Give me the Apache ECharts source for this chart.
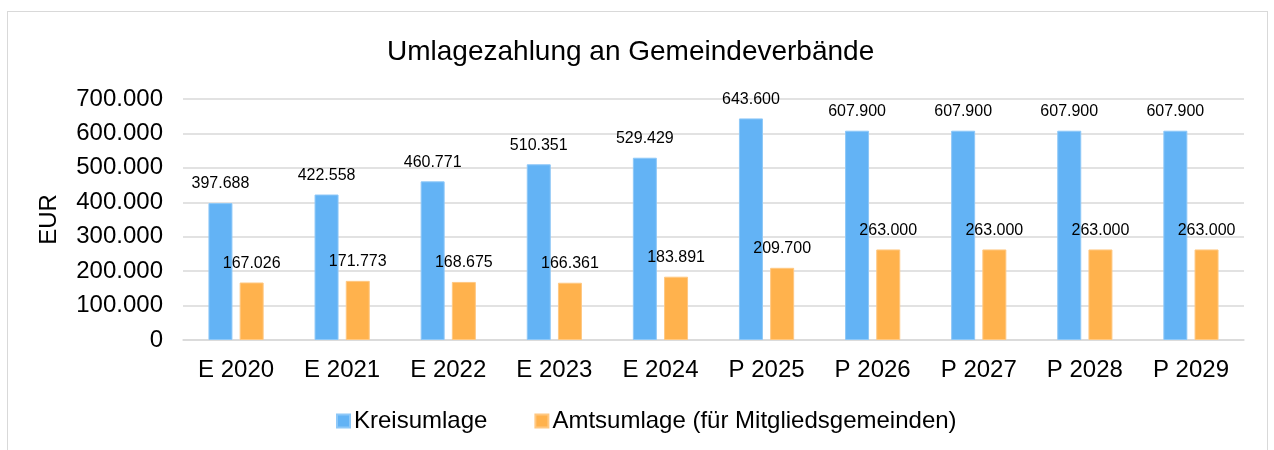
<!DOCTYPE html>
<html>
<head>
<meta charset="utf-8">
<script src="https://cdn.jsdelivr.net/npm/echarts@6/dist/echarts.min.js"></script>
<style>
  html, body { margin: 0; padding: 0; background: #fff; }
  #frame { position: absolute; left: 7px; top: 11px; width: 1261px; height: 460px; border: 1px solid #d9d9d9; box-sizing: border-box; }
  #chart { position: absolute; left: 0; top: 0; width: 1274px; height: 450px; }
</style>
</head>
<body>
<div id="frame"></div>
<div id="chart"></div>
<script>
var years = ['E 2020', 'E 2021', 'E 2022', 'E 2023', 'E 2024', 'P 2025', 'P 2026', 'P 2027', 'P 2028', 'P 2029'];
var kreisumlage = [397688, 422558, 460771, 510351, 529429, 643600, 607900, 607900, 607900, 607900];
var amtsumlage = [167026, 171773, 168675, 166361, 183891, 209700, 263000, 263000, 263000, 263000];

// Tausenderpunkt
function fmt(v) {
	return String(v).replace(/\B(?=(\d{3})+(?!\d))/g, '.');
}

var dom = document.getElementById('chart');
var myChart = echarts.init(dom);
var font = 'Liberation Sans, Arial, sans-serif';
var option = {
	textStyle: { fontFamily: font },
	title: {
		text: 'Umlagezahlung an Gemeindeverbände',
		left: 382,
		top: 33,
		textStyle: { fontSize: 28, fontWeight: 'normal', color: '#000', fontFamily: font }
	},
	legend: {
		bottom: 12,
		left: 331,
		itemWidth: 13,
		itemHeight: 13,
		itemGap: 47,
		icon: 'rect',
		textStyle: { fontSize: 24, color: '#000', fontFamily: font, padding: [0, 0, 0, -1] },
		data: ['Kreisumlage', 'Amtsumlage (für Mitgliedsgemeinden)']
	},
	grid: { left: 183, right: 30, top: 99, bottom: 110 },
	xAxis: {
		type: 'category',
		data: years,
		axisLine: { lineStyle: { color: '#d9d9d9', width: 1.5 } },
		axisTick: { show: false },
		axisLabel: { fontSize: 24, color: '#000', margin: 18, fontFamily: font }
	},
	yAxis: {
		type: 'value',
		name: 'EUR',
		nameLocation: 'middle',
		nameGap: 122,
		nameTextStyle: { fontSize: 24, color: '#000', fontFamily: font },
		min: 0,
		max: 700000,
		interval: 100000,
		axisLine: { show: false },
		axisTick: { show: false },
		splitLine: { lineStyle: { color: '#d9d9d9', width: 1.5 } },
		axisLabel: { fontSize: 24, color: '#000', margin: 20, fontFamily: font, formatter: fmt }
	},
	series: [{
		name: 'Kreisumlage',
		type: 'bar',
		data: kreisumlage,
		barWidth: 24,
		barGap: '30%',
		itemStyle: { color: '#63b3f5', borderColor: '#8ec8f8', borderWidth: 1 },
		label: { show: true, position: 'top', distance: 11, fontSize: 16, color: '#000', fontFamily: font, formatter: function (p) { return fmt(p.value); } }
	}, {
		name: 'Amtsumlage (für Mitgliedsgemeinden)',
		type: 'bar',
		data: amtsumlage,
		barWidth: 24,
		itemStyle: { color: '#ffb24d', borderColor: '#ffc882', borderWidth: 1 },
		label: { show: true, position: 'top', distance: 11, fontSize: 16, color: '#000', fontFamily: font, formatter: function (p) { return fmt(p.value); } }
	}]
};
if (option && typeof option === 'object') {
	myChart.setOption(option, true);
}
</script>
</body>
</html>
